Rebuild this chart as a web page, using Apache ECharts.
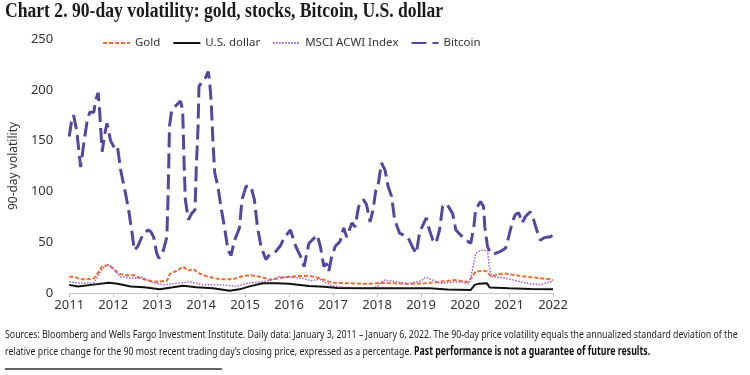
<!DOCTYPE html>
<html>
<head>
<meta charset="utf-8">
<script src="https://cdn.jsdelivr.net/npm/echarts@6.0.0/dist/echarts.min.js"></script>
<style>
  html, body { margin: 0; padding: 0; background: #fff; }
  #chart { width: 750px; height: 375px; }
</style>
</head>
<body>
<div id="chart"></div>
<script>
// tick labels
var yearTicks = [2011, 2012, 2013, 2014, 2015, 2016, 2017, 2018, 2019, 2020, 2021, 2022];

// Bitcoin 90-day volatility (decimal year, %)
var btcT = [2011.00, 2011.05, 2011.10, 2011.17, 2011.26, 2011.34, 2011.41, 2011.47, 2011.56, 2011.60,
  2011.66, 2011.69, 2011.75, 2011.80, 2011.86, 2011.94, 2012.05, 2012.10, 2012.17, 2012.28,
  2012.35, 2012.43, 2012.48, 2012.56, 2012.69, 2012.80, 2012.86, 2012.92, 2012.99, 2013.04,
  2013.14, 2013.22, 2013.25, 2013.28, 2013.33, 2013.44, 2013.53, 2013.58, 2013.61, 2013.64,
  2013.71, 2013.78, 2013.86, 2013.89, 2013.93, 2013.95, 2014.04, 2014.10, 2014.16, 2014.19,
  2014.23, 2014.27, 2014.31, 2014.38, 2014.46, 2014.53, 2014.61, 2014.68, 2014.76, 2014.87,
  2014.93, 2015.02, 2015.13, 2015.21, 2015.28, 2015.36, 2015.47, 2015.58, 2015.70, 2015.81,
  2015.88, 2016.03, 2016.15, 2016.26, 2016.34, 2016.45, 2016.64, 2016.71, 2016.79, 2016.85,
  2016.90, 2016.97, 2017.05, 2017.16, 2017.24, 2017.31, 2017.43, 2017.50, 2017.58, 2017.69,
  2017.76, 2017.84, 2017.91, 2017.97, 2018.03, 2018.10, 2018.18, 2018.25, 2018.33, 2018.40,
  2018.51, 2018.70, 2018.82, 2018.89, 2018.97, 2019.12, 2019.19, 2019.27, 2019.34, 2019.42,
  2019.49, 2019.57, 2019.64, 2019.72, 2019.79, 2019.90, 2020.02, 2020.13, 2020.20, 2020.24,
  2020.35, 2020.42, 2020.45, 2020.51, 2020.58, 2020.69, 2020.81, 2020.92, 2020.99, 2021.07,
  2021.14, 2021.22, 2021.30, 2021.37, 2021.48, 2021.56, 2021.63, 2021.71, 2021.78, 2021.86,
  2021.93, 2022.00];
var btcV = [154, 168, 175, 160, 124, 150, 170, 178, 178, 190,
  197, 180, 139, 155, 167, 150, 141, 143, 121, 98,
  82, 59, 42, 46, 59, 62, 60, 55, 39, 34,
  42, 55, 98, 164, 180, 185, 189, 180, 131, 92,
  72, 78, 82, 124, 164, 203, 210, 212, 218, 210,
  187, 147, 118, 105, 82, 65, 42, 37, 52, 64,
  92, 105, 105, 92, 65, 46, 33, 39, 41, 47,
  54, 62, 46, 36, 26, 49, 57, 46, 26, 29,
  21, 36, 46, 51, 64, 55, 69, 65, 85, 92,
  87, 70, 82, 101, 108, 128, 121, 105, 95, 72,
  59, 55, 44, 39, 60, 74, 62, 52, 49, 62,
  85, 88, 84, 78, 62, 57, 52, 49, 65, 82,
  90, 85, 65, 46, 39, 39, 41, 44, 55, 69,
  77, 79, 69, 75, 80, 72, 62, 52, 54, 55,
  55, 57];

// Gold
var goldT = [2011.00, 2011.11, 2011.26, 2011.41, 2011.56, 2011.64, 2011.75, 2011.90, 2012.00, 2012.13,
  2012.28, 2012.47, 2012.62, 2012.84, 2012.99, 2013.22, 2013.29, 2013.48, 2013.59, 2013.70,
  2013.82, 2013.97, 2014.16, 2014.42, 2014.72, 2014.95, 2015.13, 2015.39, 2015.55, 2015.77,
  2015.99, 2016.22, 2016.45, 2016.70, 2016.97, 2017.42, 2017.80, 2018.10, 2018.40, 2018.78,
  2019.08, 2019.45, 2019.75, 2020.06, 2020.17, 2020.24, 2020.43, 2020.51, 2020.58, 2020.73,
  2020.88, 2021.11, 2021.41, 2021.71, 2021.93, 2022.00];
var goldV = [16, 16, 13.5, 13.5, 14.5, 19, 26, 27.5, 24, 19,
  17.5, 17.5, 14.5, 12, 11, 12, 19, 22.6, 26, 22,
  23.6, 19, 16, 13.5, 13.5, 16.7, 17.5, 15.5, 13, 14.5,
  16, 16.7, 17, 14.5, 10, 9.5, 9, 10, 9.5, 9,
  9.5, 11, 12.8, 11, 16, 21, 22, 21, 16.7, 17.7,
  19.4, 17.7, 16, 14.5, 13.5, 12.5];

// U.S. dollar
var usdT = [2011.00, 2011.20, 2011.50, 2011.90, 2012.10, 2012.40, 2012.70, 2013.06, 2013.36, 2013.59,
  2013.89, 2014.27, 2014.65, 2014.87, 2015.10, 2015.40, 2015.70, 2016.00, 2016.45, 2016.80,
  2017.10, 2017.80, 2018.50, 2019.20, 2019.60, 2020.13, 2020.22, 2020.30, 2020.50, 2020.56,
  2021.00, 2021.50, 2022.00];
var usdV = [8, 6.5, 8, 10, 9, 6.5, 5.6, 3.6, 5.6, 7.2,
  5.6, 4.6, 2.3, 3.6, 6.5, 9.5, 9.5, 9, 7, 6.2,
  5, 4.6, 4.6, 4.6, 3.5, 3, 8, 9, 9.5, 5.5,
  4.6, 4, 3.6];

// MSCI ACWI Index
var msciT = [2011.00, 2011.26, 2011.56, 2011.71, 2011.86, 2012.00, 2012.16, 2012.47, 2012.66, 2012.84,
  2013.14, 2013.44, 2013.74, 2014.04, 2014.49, 2014.80, 2015.10, 2015.40, 2015.62, 2015.77,
  2016.07, 2016.30, 2016.50, 2016.70, 2016.97, 2017.40, 2017.80, 2018.00, 2018.15, 2018.30,
  2018.70, 2019.00, 2019.10, 2019.45, 2019.83, 2020.10, 2020.18, 2020.24, 2020.36, 2020.51,
  2020.55, 2020.60, 2020.80, 2021.10, 2021.40, 2021.71, 2021.93, 2022.00];
var msciV = [11, 9.5, 10, 21, 28.5, 24, 16, 14.5, 15.5, 11,
  8, 9.5, 11, 8, 8, 6.5, 10, 11, 12.8, 16,
  15.5, 14.5, 12, 13.5, 7, 5, 4.6, 6, 12.8, 12,
  9, 12, 15.5, 9.5, 11, 9.5, 25, 39, 42, 42,
  26, 16, 15.4, 12.8, 9.5, 8, 11, 11];

function zip(t, v) {
    var out = [];
    for (var i = 0; i < t.length; i++) {
        out.push([t[i], v[i]]);
    }
    return out;
}

var chart = echarts.init(document.getElementById('chart'), null, { renderer: 'canvas' });

var option = {
    animation: false,
    legend: {
        left: 97,
        top: 32,
        itemWidth: 27,
        itemHeight: 10,
        itemGap: 12,
        itemStyle: { opacity: 0, borderWidth: 0 },
        textStyle: { fontFamily: 'Noto Sans', fontSize: 11.5, color: '#333' },
        data: ['Gold', 'U.S. dollar', 'MSCI ACWI Index', 'Bitcoin']
    },
    grid: { left: 65, right: 197, top: 39, bottom: 82 },
    xAxis: {
        type: 'value',
        min: 2011,
        max: 2022,
        interval: 1,
        splitLine: { show: false },
        axisLine: { lineStyle: { color: '#c8c8c8', width: 1 } },
        axisTick: { show: true, length: 4, lineStyle: { color: '#c8c8c8' } },
        axisLabel: {
            color: '#333', fontFamily: 'Noto Sans', fontSize: 13, margin: 6,
            formatter: function (v) { return yearTicks.indexOf(v) >= 0 ? String(v) : ''; }
        }
    },
    yAxis: {
        type: 'value',
        min: 0,
        max: 250,
        interval: 50,
        name: '90-day volatility',
        nameLocation: 'middle',
        nameRotate: 90,
        nameGap: 46,
        nameTextStyle: { fontFamily: 'Noto Sans', fontSize: 12, color: '#333' },
        splitLine: { show: false },
        axisLine: { show: false },
        axisTick: { show: false },
        axisLabel: { color: '#333', fontFamily: 'Noto Sans', fontSize: 13, margin: 16 }
    },
    series: [
        {
            name: 'Gold', type: 'line', showSymbol: false, symbol: 'none', z: 3,
            data: zip(goldT, goldV),
            lineStyle: { color: '#f26a2e', width: 2, type: [4, 2] },
            itemStyle: { color: '#f26a2e' }
        },
        {
            name: 'U.S. dollar', type: 'line', showSymbol: false, symbol: 'none', z: 4,
            data: zip(usdT, usdV),
            lineStyle: { color: '#111', width: 2 },
            itemStyle: { color: '#111' }
        },
        {
            name: 'MSCI ACWI Index', type: 'line', showSymbol: false, symbol: 'none', z: 3,
            data: zip(msciT, msciV),
            lineStyle: { color: '#a45cc6', width: 1.5, type: [1.5, 1.5] },
            itemStyle: { color: '#a45cc6' }
        },
        {
            name: 'Bitcoin', type: 'line', showSymbol: false, symbol: 'none', z: 2,
            data: zip(btcT, btcV),
            lineStyle: { color: '#56469e', width: 3, type: [15, 6] },
            itemStyle: { color: '#56469e' }
        }
    ],
    graphic: [
        {
            type: 'text',
            x: 5,
            y: 2,
            scaleX: 0.88,
            style: {
                text: 'Chart 2. 90-day volatility: gold, stocks, Bitcoin, U.S. dollar',
                fontFamily: 'Liberation Serif',
                fontWeight: 'bold',
                fontSize: 20,
                fill: '#1a1a1a'
            }
        },
        {
            type: 'text',
            x: 5,
            y: 326,
            scaleX: 0.765,
            style: {
                text: 'Sources: Bloomberg and Wells Fargo Investment Institute. Daily data: January 3, 2011 \u2013 January 6, 2022. The 90-day price volatility equals the annualized standard deviation of the\n' +
                      'relative price change for the 90 most recent trading day\u2019s closing price, expressed as a percentage. {b|Past performance is not a guarantee of future results.}',
                fontFamily: 'Noto Sans',
                fontSize: 11.5,
                lineHeight: 17,
                fill: '#222',
                rich: {
                    b: { fontFamily: 'Noto Sans', fontWeight: 'bold', fontSize: 11.5, fill: '#111' }
                }
            }
        },
        {
            type: 'line',
            shape: { x1: 5, y1: 369, x2: 222, y2: 369 },
            style: { stroke: '#333', lineWidth: 1.5 }
        }
    ]
};

chart.setOption(option);
</script>
</body>
</html>
